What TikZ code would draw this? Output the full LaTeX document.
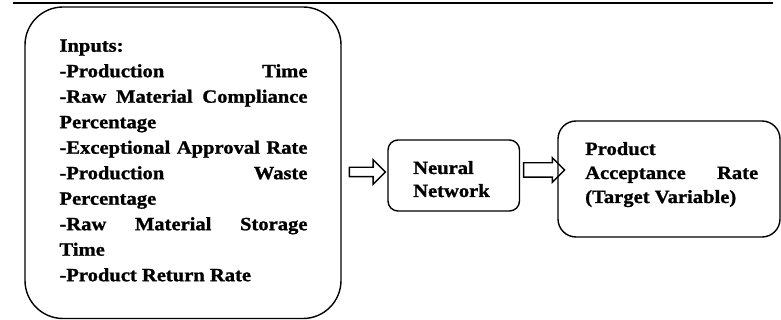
\documentclass[tikz,border=0pt]{standalone}
\usepackage{fontspec}
\setmainfont{Liberation Serif}[FakeStretch=1.1, BoldFeatures={FakeBold=1.2}]
\usetikzlibrary{shapes.arrows,calc}
\begin{document}
\begin{tikzpicture}[x=1pt,y=-1pt,
  box/.style={draw=black, line width=1.4pt, inner sep=0pt},
  txt/.style={inner sep=0pt, anchor=base west},
  flow/.style={single arrow, draw=black, line width=1.4pt, inner xsep=0pt,
    single arrow head indent=0pt, shape border rotate=0}]
\useasboundingbox (0,0) rectangle (781,320);
\draw[line width=2pt] (13,3.5) coordinate (tl) -- (773,3.5) coordinate (tr);
% boxes
\node[box, rounded corners=38pt, minimum width=316pt, minimum height=311.5pt] (inputs) at (183,162.75) {};
\node[box, rounded corners=10pt, minimum width=131.5pt, minimum height=71pt] (nn) at (453.75,175.5) {};
\node[box, rounded corners=18pt, minimum width=222pt, minimum height=116pt] (tgt) at (669,179) {};
% texts
\node[txt] (intext) at (59.3,51.7) {\parbox[t]{248pt}{\bfseries\fontsize{18.7}{25.5}\selectfont
Inputs:\\
\makebox[\linewidth][s]{-Production Time}\\
\makebox[\linewidth][s]{-Raw Material Compliance}\\
Percentage\\
\makebox[\linewidth][s]{-Exceptional Approval Rate}\\
\makebox[\linewidth][s]{-Production Waste}\\
Percentage\\
\makebox[\linewidth][s]{-Raw Material Storage}\\
Time\\
-Product Return Rate}};
\node[txt] (nntext) at (413,174) {\parbox[t]{100pt}{\bfseries\fontsize{18.7}{23}\selectfont
Neural\\ Network}};
\node[txt] (tgttext) at (585,155) {\parbox[t]{173pt}{\bfseries\fontsize{18.7}{24}\selectfont
Product\\
\makebox[\linewidth][s]{Acceptance Rate}\\
(Target Variable)}};
% arrows
\node[flow, minimum height=36pt, inner ysep=4pt, single arrow head extend=7.5pt] (a1) at (365,172) {};
\node[flow, minimum height=41pt, inner ysep=6.5pt, single arrow head extend=5pt] (a2) at (540.5,170) {};
\end{tikzpicture}
\end{document}
